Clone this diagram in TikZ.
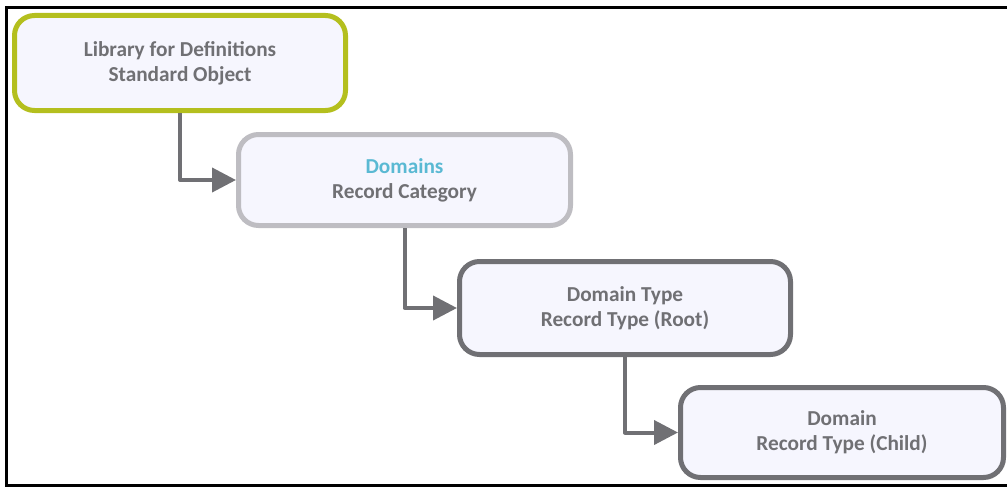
\documentclass[tikz,border=0pt]{standalone}
\usepackage{fontspec}
\setmainfont{Carlito}
\usetikzlibrary{arrows.meta}
\definecolor{olive}{HTML}{B4BF1E}
\definecolor{lgray}{HTML}{BEBDC2}
\definecolor{dgray}{HTML}{707074}
\definecolor{boxfill}{HTML}{F6F6FE}
\definecolor{dblue}{HTML}{5AB9D3}
\tikzset{
  card/.style={draw, fill=boxfill, line width=5pt, rounded corners=20pt,
    inner sep=0pt, align=center, text=dgray,
    font=\fontsize{21.3}{25}\selectfont\bfseries},
  link/.style={draw=dgray, line width=4pt, line join=round,
    -{Triangle[length=24pt,width=24pt]}}
}
\begin{document}
\begin{tikzpicture}[x=1pt,y=-1pt]
\useasboundingbox (0,0) rectangle (1007,487);
\draw[line width=3pt] (1010,7.5) -- (6.5,7.5) -- (6.5,485.5) -- (1010,485.5);
\node[card, draw=olive, minimum width=331pt, minimum height=95pt] (a) at (180,63)
  {Library for Definitions\\Standard Object};
\node[card, draw=lgray, minimum width=332pt, minimum height=91pt] (b) at (404.5,180)
  {\textcolor{dblue}{Domains}\\Record Category};
\node[card, draw=dgray, minimum width=331pt, minimum height=93pt] (c) at (625,308)
  {Domain Type\\Record Type (Root)};
\node[card, draw=dgray, minimum width=323pt, minimum height=90pt] (d) at (842,432.5)
  {Domain\\Record Type (Child)};
\draw[link] (a.south) |- (b.west);
\draw[link] (b.south) |- (c.west);
\draw[link] (c.south) |- (d.west);
\end{tikzpicture}
\end{document}
